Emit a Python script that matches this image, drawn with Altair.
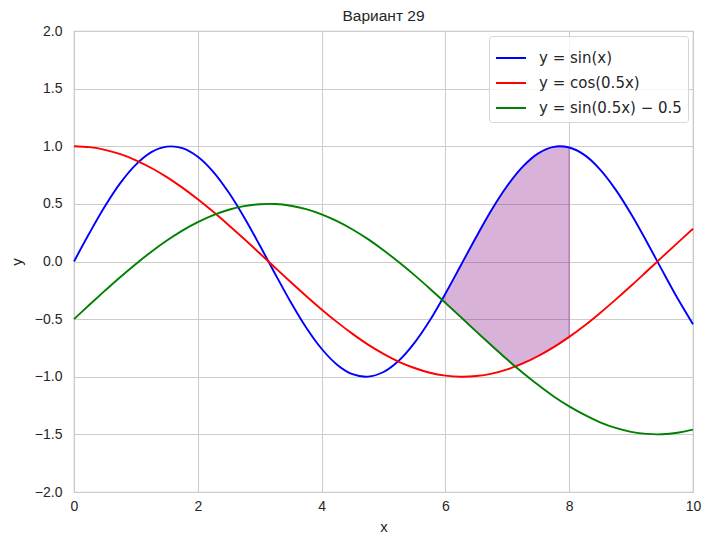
import altair as alt
import pandas as pd

# x grid of the curves (step 0.25)
x_vals = [0.0, 0.25, 0.5, 0.75, 1.0, 1.25, 1.5, 1.75, 2.0, 2.25, 2.5, 2.75, 3.0, 3.25,
          3.5, 3.75, 4.0, 4.25, 4.5, 4.75, 5.0, 5.25, 5.5, 5.75, 6.0, 6.25, 6.5, 6.75,
          7.0, 7.25, 7.5, 7.75, 8.0, 8.25, 8.5, 8.75, 9.0, 9.25, 9.5, 9.75, 10.0]

# y = sin(x)
y_sin = [0.000, 0.247, 0.479, 0.682, 0.841, 0.949, 0.997, 0.984, 0.909, 0.778, 0.598,
         0.382, 0.141, -0.108, -0.351, -0.572, -0.757, -0.895, -0.978, -0.999, -0.959,
         -0.859, -0.706, -0.510, -0.279, -0.033, 0.215, 0.451, 0.657, 0.823, 0.938,
         0.995, 0.989, 0.923, 0.798, 0.624, 0.412, 0.174, -0.075, -0.319, -0.544]

# y = cos(0.5x)
y_cos = [1.000, 0.992, 0.969, 0.931, 0.878, 0.811, 0.732, 0.641, 0.540, 0.431, 0.315,
         0.195, 0.071, -0.054, -0.178, -0.299, -0.416, -0.526, -0.628, -0.721, -0.801,
         -0.870, -0.924, -0.965, -0.990, -1.000, -0.994, -0.973, -0.936, -0.885, -0.820,
         -0.743, -0.654, -0.555, -0.446, -0.331, -0.211, -0.087, 0.038, 0.162, 0.284]

# y = sin(0.5x) - 0.5
y_sin_half = [-0.500, -0.375, -0.253, -0.134, -0.021, 0.085, 0.182, 0.268, 0.341, 0.402,
              0.449, 0.481, 0.497, 0.499, 0.484, 0.454, 0.409, 0.350, 0.278, 0.194, 0.098,
              -0.007, -0.118, -0.236, -0.359, -0.483, -0.608, -0.731, -0.851, -0.965,
              -1.072, -1.171, -1.257, -1.331, -1.395, -1.444, -1.478, -1.496, -1.499,
              -1.486, -1.459]

# shaded region
fill_x = [5.95, 6.0, 6.25, 6.5, 6.75, 7.0, 7.12, 7.25, 7.5, 7.75, 8.0]
fill_upper = [-0.33, -0.279, -0.033, 0.215, 0.451, 0.657, 0.743, 0.823, 0.938, 0.995, 0.989]
fill_lower = [-0.33, -0.359, -0.483, -0.608, -0.731, -0.851, -0.91, -0.885, -0.820, -0.743, -0.654]

series_names = ["y = sin(x)", "y = cos(0.5x)", "y = sin(0.5x) − 0.5"]
series_colors = ["#0000ff", "#ff0000", "#008000"]

x_ticks = [0, 2, 4, 6, 8, 10]
y_ticks = [-2.0, -1.5, -1.0, -0.5, 0.0, 0.5, 1.0, 1.5, 2.0]

rows = []
for name, ys in zip(series_names, [y_sin, y_cos, y_sin_half]):
    for xv, yv in zip(x_vals, ys):
        rows.append({"x": xv, "y": yv, "series": name})
lines_df = pd.DataFrame(rows)
fill_df = pd.DataFrame({"x": fill_x, "upper": fill_upper, "lower": fill_lower})

x_scale = alt.Scale(domain=[0, 10], nice=False, zero=False)
y_scale = alt.Scale(domain=[-2, 2], nice=False, zero=False)

x_axis = alt.Axis(values=x_ticks, format="d", title="x", grid=True, ticks=False,
                  domain=False, labelPadding=7, titlePadding=6, labelFlush=False)
y_axis = alt.Axis(values=y_ticks, format=".1f", title="y", grid=True, ticks=False,
                  domain=False, labelPadding=12, titlePadding=10, labelFlush=False)

area = alt.Chart(fill_df).mark_area(
    fill="#800080", fillOpacity=0.3, stroke="#800080", strokeOpacity=0.3,
    strokeWidth=1.5, interpolate="catmull-rom"
).encode(
    x=alt.X("x:Q", scale=x_scale, axis=x_axis),
    y=alt.Y("upper:Q", scale=y_scale, axis=y_axis),
    y2="lower:Q",
)

lines = alt.Chart(lines_df).mark_line(strokeWidth=1.9, interpolate="catmull-rom").encode(
    x=alt.X("x:Q", scale=x_scale, axis=x_axis),
    y=alt.Y("y:Q", scale=y_scale, axis=y_axis),
    color=alt.Color(
        "series:N",
        scale=alt.Scale(domain=series_names, range=series_colors),
        legend=alt.Legend(
            title=None, orient="top-right", offset=5, symbolType="stroke",
            symbolSize=900, symbolStrokeWidth=2, labelFont="DejaVu Sans",
            labelFontSize=15, labelColor="#262626", labelOffset=12,
            strokeColor="#d6d6d6", fillColor="rgba(255,255,255,0.8)",
            cornerRadius=3, padding=6, rowPadding=1, labelLimit=300,
        ),
    ),
    detail="series:N",
)

chart = (area + lines).properties(
    width=619,
    height=461,
    background="white",
    title=alt.Title("Вариант 29", font="Liberation Sans", fontSize=15.5,
                    fontWeight="normal", color="#262626", offset=0),
    autosize=alt.AutoSizeParams(type="none"),
    padding={"left": 66, "top": 23, "right": 11, "bottom": 50},
).configure_view(
    stroke="#cccccc", strokeWidth=1.25
).configure_axis(
    labelFont="Liberation Sans", labelFontSize=14, labelColor="#262626",
    titleFont="Liberation Sans", titleFontSize=15, titleColor="#262626",
    titleFontWeight="normal", gridColor="#cccccc", gridWidth=1.1,
)

chart.save("out.html", embed_options={"renderer": "svg", "actions": False})
